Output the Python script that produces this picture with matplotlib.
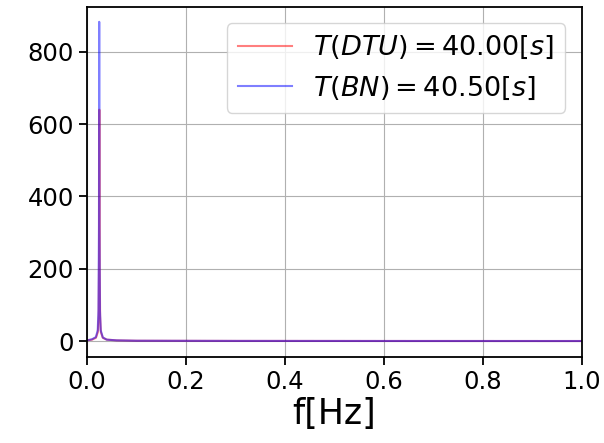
import matplotlib
matplotlib.use('Agg')
import matplotlib.pyplot as plt

# spectrum of the DTU signal (period 40.00 s)
f_dtu = [0.0, 0.010, 0.018, 0.022, 0.0235, 0.0245, 0.0250, 0.0255, 0.0265,
         0.028, 0.032, 0.040, 0.060, 0.100, 0.300, 0.600, 1.000]
amp_dtu = [2, 4, 9, 25, 70, 250, 640, 250, 70, 25, 9, 4, 2, 1, 0.5, 0.3, 0.2]

# spectrum of the BN signal (period 40.50 s)
f_bn = [0.0, 0.010, 0.018, 0.0217, 0.0232, 0.0242, 0.0247, 0.0252, 0.0262,
        0.0277, 0.032, 0.040, 0.060, 0.100, 0.300, 0.600, 1.000]
amp_bn = [2, 5, 11, 30, 85, 320, 883, 320, 85, 30, 10, 4, 2, 1, 0.5, 0.3, 0.2]

labels = [r'$T(DTU) = 40.00[s]$', r'$T(BN) = 40.50[s]$']

fig = plt.figure(figsize=(6.04, 4.43), dpi=100)
ax = fig.add_axes([87 / 604, 1 - 357 / 443, (581.5 - 87) / 604, (357 - 7) / 443])

ax.plot(f_dtu, amp_dtu, color='r', alpha=0.5, linewidth=1.5, label=labels[0])
ax.plot(f_bn, amp_bn, color='b', alpha=0.5, linewidth=1.5, label=labels[1])

ax.set_xlim(0, 1)
ax.set_ylim(-44, 924)
ax.set_xticks([0.0, 0.2, 0.4, 0.6, 0.8, 1.0])
ax.set_yticks([0, 200, 400, 600, 800])
ax.tick_params(labelsize=17.5, width=1.3, length=6)
for s in ax.spines.values():
    s.set_linewidth(1.3)
ax.set_xlabel('f[Hz]', fontsize=25, labelpad=2)
ax.grid(True)
ax.legend(fontsize=19.5, loc='upper right', borderaxespad=0.6)

fig.savefig('out.png', dpi=100)
